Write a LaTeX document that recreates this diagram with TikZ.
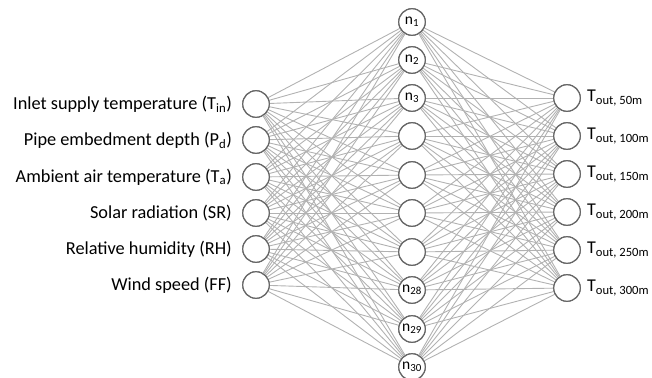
\documentclass[tikz,border=0pt]{standalone}
\usepackage{fontspec}
\setmainfont{Carlito}
\begin{document}
\begin{tikzpicture}[x=1pt,y=-1pt,
  neuron/.style={circle,draw=black!60,line width=1.2pt,fill=white,minimum size=26.5pt,inner sep=0pt,font=\fontsize{15.5}{15.5}\selectfont},
  conn/.style={draw=black!30,line width=0.9pt},
  inlabel/.style={anchor=east,inner sep=0pt,font=\fontsize{18.3}{18.3}\selectfont},
  outlabel/.style={anchor=west,inner sep=0pt,font=\fontsize{18}{18}\selectfont}]
\useasboundingbox (0,0) rectangle (652,377);
% input nodes
\foreach \i/\y in {1/104,2/140,3/177,4/213,5/249,6/285}
  \node[neuron] (i\i) at (256,\y) {};
% hidden nodes
\foreach \i/\y/\t in {1/22/{n\textsubscript{1}},2/60/{n\textsubscript{2}},3/98/{n\textsubscript{3}},4/136/{},5/175/{},6/213/{},7/252/{},8/290/{n\textsubscript{28}},9/329/{n\textsubscript{29}},10/367/{n\textsubscript{30}}}
  \node[neuron] (h\i) at (412,\y) {};
% output nodes
\foreach \i/\y in {1/98,2/136,3/174,4/212,5/250,6/288}
  \node[neuron] (o\i) at (567,\y) {};
% connections
\foreach \i in {1,...,6}
  \foreach \h in {1,...,10}
    \draw[conn] (i\i) -- (h\h);
\foreach \h in {1,...,10}
  \foreach \o in {1,...,6}
    \draw[conn] (h\h) -- (o\o);
% redraw nodes on top of the connectors
\foreach \i/\y in {1/104,2/140,3/177,4/213,5/249,6/285}
  \node[neuron] (ii\i) at (256,\y) {};
\foreach \i/\y/\t in {1/22/{n\textsubscript{1}},2/60/{n\textsubscript{2}},3/98/{n\textsubscript{3}},4/136/{},5/175/{},6/213/{},7/252/{},8/290/{n\textsubscript{28}},9/329/{n\textsubscript{29}},10/367/{n\textsubscript{30}}}
  \node[neuron] (hh\i) at (412,\y) {\t};
\foreach \i/\y in {1/98,2/136,3/174,4/212,5/250,6/288}
  \node[neuron] (oo\i) at (567,\y) {};
% input labels
\node[inlabel] (l1) at (232,104) {Inlet supply temperature (T\textsubscript{in})};
\node[inlabel] (l2) at (232,140) {Pipe embedment depth (P\textsubscript{d})};
\node[inlabel] (l3) at (232,177) {Ambient air temperature (T\textsubscript{a})};
\node[inlabel] (l4) at (232,213) {Solar radiation (SR)};
\node[inlabel] (l5) at (232,249) {Relative humidity (RH)};
\node[inlabel] (l6) at (232,285) {Wind speed (FF)};
% output labels
\node[outlabel] (r1) at (587,98) {T\textsubscript{out, 50m}};
\node[outlabel] (r2) at (587,136) {T\textsubscript{out, 100m}};
\node[outlabel] (r3) at (587,174) {T\textsubscript{out, 150m}};
\node[outlabel] (r4) at (587,212) {T\textsubscript{out, 200m}};
\node[outlabel] (r5) at (587,250) {T\textsubscript{out, 250m}};
\node[outlabel] (r6) at (587,288) {T\textsubscript{out, 300m}};
\end{tikzpicture}
\end{document}
